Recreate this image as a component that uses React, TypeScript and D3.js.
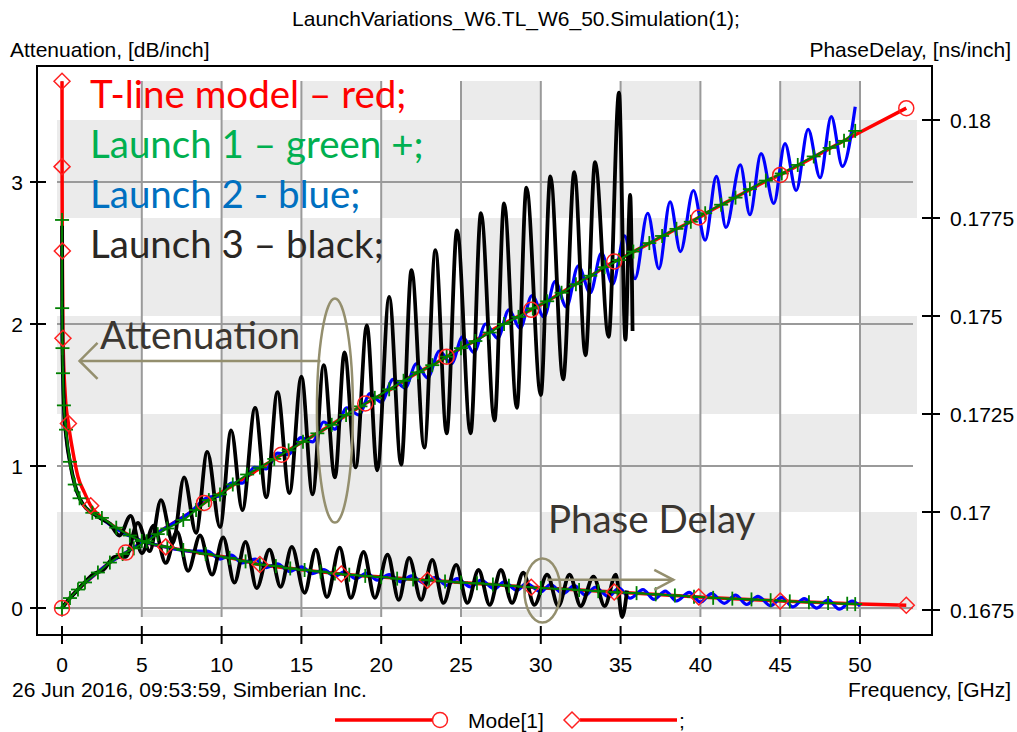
import React from 'react';
import * as d3 from 'd3';

// ---------- axes ----------
const freqTicks = [0, 5, 10, 15, 20, 25, 30, 35, 40, 45, 50];
const attTicks = [0, 1, 2, 3];
const pdTicks = [0.1675, 0.17, 0.1725, 0.175, 0.1775, 0.18];
const pdTickLabels = ['0.1675', '0.17', '0.1725', '0.175', '0.1775', '0.18'];

// ---------- T-line model (red) ----------
const tlineAtt: number[][] = [
  [0, 0], [0.5, 0.07], [1, 0.13], [2, 0.23], [3, 0.32], [4, 0.39], [5, 0.46], [6, 0.53], [7, 0.6], [8, 0.67],
  [8.9, 0.74], [10, 0.815], [11, 0.885], [12, 0.955], [13.75, 1.08], [15, 1.165], [16, 1.23], [17, 1.3], [18, 1.37],
  [19, 1.44], [20, 1.5], [21, 1.57], [22, 1.64], [23, 1.7], [24.1, 1.77], [25, 1.83], [26, 1.89], [27, 1.96],
  [28, 2.02], [29.4, 2.1], [30, 2.135], [31, 2.2], [32, 2.27], [33, 2.33], [34.6, 2.44], [35, 2.46], [36, 2.52],
  [37, 2.58], [38, 2.64], [39.9, 2.75], [41, 2.82], [42, 2.88], [43, 2.94], [44, 3.0], [45, 3.05], [46, 3.11],
  [47, 3.17], [48, 3.23], [49, 3.29], [50, 3.35], [52.9, 3.52],
];
const tlineAttMarkers: number[][] = [
  [0, 0], [4, 0.39], [8.9, 0.74], [13.75, 1.08], [19, 1.44], [24.1, 1.77], [29.4, 2.1], [34.6, 2.44],
  [39.9, 2.75], [45, 3.05], [52.9, 3.52],
];
const tlinePd: number[][] = [
  [0.001, 0.18099], [0.005, 0.17881], [0.02, 0.17666], [0.06, 0.17443], [0.2, 0.173], [0.4, 0.17226],
  [0.7, 0.1715], [1, 0.1709], [1.4, 0.1705], [1.8, 0.17016], [2.5, 0.16985], [3.4, 0.1696], [4.25, 0.1694],
  [5, 0.16926], [6.5, 0.16911], [8, 0.169], [9, 0.16893], [10.5, 0.16883], [12.4, 0.16866], [15, 0.16853],
  [17.5, 0.16842], [20, 0.16834], [22.9, 0.16826], [25, 0.1682], [29.4, 0.16808], [34.6, 0.16796],
  [39.9, 0.16783], [45, 0.16773], [50, 0.16765], [52.9, 0.16762],
];
const tlinePdMarkers: number[][] = [
  [0.001, 0.18099], [0.005, 0.17881], [0.02, 0.17666], [0.06, 0.17443], [0.4, 0.17226], [1.8, 0.17016],
  [6.5, 0.16911], [12.4, 0.16866], [17.5, 0.16842], [22.9, 0.16826], [29.4, 0.16808], [34.6, 0.16796],
  [39.9, 0.16783], [45, 0.16773], [52.9, 0.16762],
];

// ---------- Launch 1 (green +) ----------
const launch1Att: number[][] = [
  [0, 0], [0.5, 0.07], [1.0, 0.13], [1.44, 0.18], [2.25, 0.25], [3, 0.32], [3.8, 0.38], [4.5, 0.42], [5.3, 0.47],
  [6, 0.52], [6.6, 0.56], [7.6, 0.62], [8.4, 0.69], [9.2, 0.76], [9.9, 0.8], [10.7, 0.87], [11.6, 0.94],
  [12.4, 0.99], [13.3, 1.05], [14.2, 1.11], [15.1, 1.17], [16, 1.23], [16.9, 1.29], [17.8, 1.36], [18.7, 1.42],
  [19.6, 1.48], [20.5, 1.54], [21.4, 1.6], [22.3, 1.66], [23.2, 1.71], [24.1, 1.77], [25, 1.83], [25.9, 1.88],
  [26.8, 1.94], [27.7, 2.0], [28.6, 2.05], [29.5, 2.11], [30.4, 2.16], [31.3, 2.22], [32.2, 2.28], [33.1, 2.34],
  [34, 2.4], [34.9, 2.45], [35.8, 2.51], [36.8, 2.57], [37.6, 2.62], [38.5, 2.67], [39.4, 2.72], [40.3, 2.78],
  [41.3, 2.84], [42.2, 2.89], [43.1, 2.95], [44.1, 3.01], [45.1, 3.06], [46.1, 3.12], [47.1, 3.18], [48.1, 3.24],
  [49, 3.29], [49.7, 3.36],
];
const launch1Pd: number[][] = [
  [0.003, 0.17745], [0.01, 0.1752], [0.03, 0.17418], [0.06, 0.17354], [0.12, 0.17272], [0.25, 0.1721],
  [0.5, 0.17128], [0.8, 0.1707], [1.1, 0.17035], [1.9, 0.16998], [2.5, 0.16985], [3.4, 0.1696], [4.25, 0.1694],
  [5, 0.16926], [6.6, 0.16911], [7.6, 0.16903], [9, 0.16893], [10.5, 0.16883], [11.5, 0.16874], [12.4, 0.16866],
  [13.4, 0.16862], [14.3, 0.16856], [15.2, 0.16852], [16.2, 0.16848], [17.1, 0.16843], [18, 0.1684],
  [19, 0.16837], [20, 0.16834], [21, 0.1683], [22, 0.16828], [23, 0.16826], [24, 0.16823], [25, 0.1682],
  [26, 0.16818], [27, 0.16815], [28, 0.16812], [29, 0.16809], [30, 0.16806], [31.2, 0.16804], [32.4, 0.16801],
  [33.6, 0.16798], [34.8, 0.16795], [36, 0.16793], [37.2, 0.1679], [38.4, 0.16787], [39.6, 0.16784],
  [40.8, 0.16781], [42, 0.16779], [43.2, 0.16777], [44.4, 0.16775], [45.6, 0.16772], [46.8, 0.1677],
  [48, 0.16768], [49.2, 0.16766], [49.7, 0.16765],
];

// ---------- Launch 2 (blue) ----------
const launch2Att: number[][] = [
  [0, 0], [0.5, 0.07], [1, 0.13], [2, 0.23], [3, 0.32], [4, 0.39], [5, 0.46], [6, 0.53], [7, 0.6], [8, 0.67],
  [9.15, 0.78], [9.9, 0.79], [10.6, 0.88], [11.3, 0.88], [12.05, 0.99], [12.8, 0.98], [13.5, 1.09], [14.2, 1.08],
  [14.95, 1.2], [15.7, 1.17], [16.4, 1.31], [17.1, 1.26], [17.85, 1.41], [18.6, 1.36], [19.3, 1.51], [20, 1.45],
  [20.75, 1.61], [21.5, 1.55], [22.2, 1.72], [22.9, 1.62], [23.65, 1.81], [24.4, 1.72], [25.1, 1.91], [25.8, 1.8],
  [26.55, 2.0], [27.3, 1.9], [28, 2.1], [28.7, 1.97], [29.45, 2.2], [30.2, 2.05], [30.9, 2.3], [31.6, 2.12],
  [32.35, 2.41], [33.1, 2.22], [33.8, 2.5], [34.5, 2.28], [35.25, 2.62], [35.9, 2.32], [36.7, 2.78], [37.4, 2.39],
  [38.1, 2.86], [38.75, 2.51], [39.56, 2.94], [40.3, 2.59], [41.0, 3.04], [41.6, 2.68], [42.5, 3.12], [43.1, 2.77],
  [43.8, 3.2], [44.6, 2.85], [45.3, 3.27], [46.0, 2.94], [46.75, 3.37], [47.5, 3.03], [48.2, 3.46], [48.9, 3.11],
  [49.7, 3.53],
];
const launch2Pd: number[][] = [
  [0.01, 0.1752], [0.03, 0.1742], [0.06, 0.17354], [0.12, 0.17272], [0.3, 0.1718], [0.5, 0.17128], [0.8, 0.1707],
  [1.1, 0.17035], [1.5, 0.1701], [2, 0.16995], [2.5, 0.16982], [3, 0.16968], [3.5, 0.16955], [4, 0.16943],
  [4.5, 0.16935], [5, 0.16926], [6, 0.16915], [7, 0.16906], [8, 0.169], [9.1, 0.169], [9.9, 0.1688],
  [10.6, 0.1689], [11.3, 0.1687], [12.1, 0.1688], [12.8, 0.16858], [13.5, 0.16868], [14.25, 0.16848],
  [15, 0.1686], [15.7, 0.16843], [16.4, 0.16853], [17.1, 0.16836], [17.7, 0.16848], [18.4, 0.1683],
  [19.1, 0.16844], [19.75, 0.16826], [20.5, 0.1684], [21.25, 0.16822], [21.9, 0.16837], [22.7, 0.16818],
  [23.4, 0.16833], [24.1, 0.16813], [24.75, 0.1683], [25.6, 0.16809], [26.25, 0.16826], [27.1, 0.16804],
  [27.7, 0.16822], [28.5, 0.168], [29.1, 0.16818], [30, 0.16796], [30.6, 0.16815], [31.4, 0.16792],
  [32.1, 0.16812], [32.8, 0.16788], [33.4, 0.16808], [34.25, 0.16784], [34.9, 0.16806], [35.6, 0.1678],
  [36.4, 0.16802], [37.1, 0.16777], [37.8, 0.16798], [38.5, 0.16773], [39.3, 0.16795], [40.0, 0.1677],
  [40.7, 0.16792], [41.5, 0.16767], [42.2, 0.16788], [42.9, 0.16764], [43.6, 0.16785], [44.4, 0.16761],
  [45.1, 0.16782], [45.8, 0.16758], [46.5, 0.16779], [47.3, 0.16755], [48.0, 0.16776], [48.7, 0.16752],
  [49.5, 0.16773], [50, 0.1676],
];

// ---------- Launch 3 (black) ----------
const launch3Att: number[][] = [
  [0, 0], [0.5, 0.07], [1, 0.13], [1.5, 0.19], [2, 0.24], [2.6, 0.27], [3.3, 0.36], [4.0, 0.36], [4.75, 0.6],
  [5.5, 0.4], [6.2, 0.76], [6.95, 0.46], [7.65, 0.92], [8.4, 0.53], [9.1, 1.1], [9.9, 0.57], [10.6, 1.25],
  [11.3, 0.69], [12.1, 1.41], [12.8, 0.78], [13.5, 1.52], [14.25, 0.81], [15, 1.63], [15.7, 0.8], [16.4, 1.71],
  [17.1, 0.92], [17.7, 1.8], [18.4, 0.99], [19.1, 1.99], [19.75, 0.97], [20.5, 2.19], [21.25, 1.01], [21.9, 2.38],
  [22.7, 1.13], [23.4, 2.52], [24.1, 1.23], [24.75, 2.66], [25.6, 1.23], [26.25, 2.78], [27.1, 1.32], [27.7, 2.85],
  [28.5, 1.41], [29.1, 2.96], [30, 1.5], [30.6, 3.04], [31.4, 1.61], [32.1, 3.07], [32.8, 1.78], [33.4, 3.14],
  [34.25, 1.91], [34.9, 3.63], [35.3, 1.89], [35.6, 2.91], [35.75, 1.95],
];
const launch3Pd: number[][] = [
  [0.003, 0.1773], [0.01, 0.1752], [0.03, 0.17418], [0.06, 0.17354], [0.12, 0.17272], [0.3, 0.1718],
  [0.5, 0.17128], [0.8, 0.1707], [1.1, 0.17035], [1.5, 0.1701], [2, 0.16995], [2.5, 0.16982], [3, 0.1697],
  [3.6, 0.1694], [4.3, 0.1699], [5.0, 0.16895], [5.75, 0.16965], [6.5, 0.1687], [7.2, 0.1695], [7.9, 0.1685],
  [8.65, 0.1694], [9.4, 0.1684], [10.1, 0.16935], [10.8, 0.1682], [11.5, 0.16924], [12.2, 0.16806],
  [13, 0.16904], [13.7, 0.16809], [14.4, 0.16911], [15.2, 0.16794], [15.9, 0.16904], [16.6, 0.16783],
  [17.4, 0.16909], [18.1, 0.16781], [18.9, 0.16898], [19.6, 0.16781], [20.4, 0.16891], [21.1, 0.16776],
  [21.75, 0.16883], [22.5, 0.16776], [23.2, 0.16878], [23.9, 0.16768], [24.7, 0.16865], [25.4, 0.16768],
  [26.1, 0.16852], [26.8, 0.16763], [27.5, 0.16852], [28.2, 0.16768], [28.9, 0.16845], [29.6, 0.16763],
  [30.4, 0.1684], [31.1, 0.1676], [31.8, 0.1684], [32.5, 0.1676], [33.3, 0.16835], [34.0, 0.1676],
  [34.7, 0.1684], [35.1, 0.16732], [35.4, 0.168],
];

const legendTexts = [
  { text: 'T-line model \u2013 red;', color: '#FF0000' },
  { text: 'Launch 1 \u2013 green +;', color: '#00B050' },
  { text: 'Launch 2 - blue;', color: '#0070C0' },
  { text: 'Launch 3 \u2013 black;', color: '#2A2724' },
];

const AXIS_FONT = '"Liberation Sans", Arial, sans-serif';
const NOTE_FONT = 'Lato, "Open Sans", sans-serif';
const NOTE_COLOR = '#948F6E';

export default function App() {
  const W = 1017;
  const H = 732;
  const x = d3.scaleLinear().domain([0, 50]).range([62, 860]);
  const yA = d3.scaleLinear().domain([0, 3]).range([608, 182]);
  const yP = d3.scaleLinear().domain([0.1675, 0.18]).range([610, 120]);

  const frame = { l: 37, t: 66, r: 932, b: 635 };
  const band = { l: 57, r: 917, t: 81, b: 617 };

  const lineA = d3.line<number[]>().x((d) => x(d[0])).y((d) => yA(d[1])).curve(d3.curveMonotoneX);
  const lineP = d3.line<number[]>().x((d) => x(d[0])).y((d) => yP(d[1])).curve(d3.curveMonotoneX);

  // checkerboard background
  const colEdges = [band.l, ...freqTicks.slice(1).map((f) => x(f)), band.r];
  const rowEdges = [band.t, ...pdTicks.slice().reverse().map((p) => yP(p)), band.b];
  const cells: { x: number; y: number; w: number; h: number }[] = [];
  for (let r = 0; r < rowEdges.length - 1; r++) {
    for (let c = 0; c < colEdges.length - 1; c++) {
      if ((r + c) % 2 === 1) {
        cells.push({ x: colEdges[c], y: rowEdges[r], w: colEdges[c + 1] - colEdges[c], h: rowEdges[r + 1] - rowEdges[r] });
      }
    }
  }

  const plus = (px: number, py: number, k: string) => (
    <g key={k}>
      <line x1={px - 7} x2={px + 7} y1={py} y2={py} />
      <line x1={px} x2={px} y1={py - 7} y2={py + 7} />
    </g>
  );
  const diamond = (px: number, py: number, k: string | number) => (
    <path key={k} d={`M${px - 8},${py}L${px},${py - 8}L${px + 8},${py}L${px},${py + 8}Z`} />
  );

  return (
    <svg width={W} height={H} style={{ position: 'absolute', left: 0, top: 0, background: '#fff' }}>
      <rect x={0} y={0} width={W} height={H} fill="#fff" />
      {/* bands */}
      <g fill="#EBEBEB">
        {cells.map((c, i) => (
          <rect key={i} x={c.x} y={c.y} width={c.w} height={c.h} />
        ))}
      </g>
      {/* grid */}
      <g stroke="#9A9A9A" strokeWidth={2}>
        {freqTicks.map((f) => (
          <line key={'vg' + f} x1={x(f)} x2={x(f)} y1={band.t} y2={band.b} />
        ))}
        {attTicks.map((a) => (
          <line key={'hg' + a} x1={band.l} x2={913} y1={yA(a)} y2={yA(a)} />
        ))}
      </g>

      {/* curves */}
      <g fill="none" strokeLinejoin="round">
        <path d={lineA(tlineAtt) || ''} stroke="#FF0000" strokeWidth={3.5} />
        <path d={lineP(tlinePd) || ''} stroke="#FF0000" strokeWidth={3.5} />
        <path d={lineA(launch2Att) || ''} stroke="#0000FF" strokeWidth={3.2} />
        <path d={lineP(launch2Pd) || ''} stroke="#0000FF" strokeWidth={3.2} />
        <path d={lineA(launch3Att) || ''} stroke="#000000" strokeWidth={3.8} />
        <path d={lineP(launch3Pd) || ''} stroke="#000000" strokeWidth={3.8} />
        <path d={lineA(launch1Att) || ''} stroke="#008000" strokeWidth={2} />
        <path d={lineP(launch1Pd) || ''} stroke="#008000" strokeWidth={2} />
      </g>
      <g stroke="#008000" strokeWidth={1.8}>
        {launch1Att.map((d, i) => plus(x(d[0]), yA(d[1]), 'ga' + i))}
        {launch1Pd.map((d, i) => plus(x(d[0]), yP(d[1]), 'gp' + i))}
      </g>
      <g fill="none" stroke="#FF2020" strokeWidth={1.5}>
        {tlineAttMarkers.map((d, i) => (
          <circle key={'rc' + i} cx={x(d[0])} cy={yA(d[1])} r={7.5} />
        ))}
        {tlinePdMarkers.map((d, i) => diamond(x(d[0]), yP(d[1]), 'rd' + i))}
      </g>

      {/* frame */}
      <rect x={frame.l} y={frame.t} width={frame.r - frame.l} height={frame.b - frame.t} fill="none" stroke="#000" strokeWidth={2} />

      {/* ticks + labels */}
      <g stroke="#000" strokeWidth={2}>
        {attTicks.map((a) => (
          <line key={'lt' + a} x1={30} x2={46} y1={yA(a)} y2={yA(a)} />
        ))}
        {pdTicks.map((p) => (
          <line key={'rt' + p} x1={922} x2={940} y1={yP(p)} y2={yP(p)} />
        ))}
        {freqTicks.map((f) => (
          <line key={'bt' + f} x1={x(f)} x2={x(f)} y1={626} y2={644} />
        ))}
      </g>
      <g fontFamily={AXIS_FONT} fontSize={21} fill="#000">
        {attTicks.map((a) => (
          <text key={'ll' + a} x={23} y={yA(a) + 8} textAnchor="end">
            {a}
          </text>
        ))}
        {pdTicks.map((p, i) => (
          <text key={'rl' + p} x={950} y={yP(p) + 8}>
            {pdTickLabels[i]}
          </text>
        ))}
        {freqTicks.map((f) => (
          <text key={'bl' + f} x={x(f)} y={672} textAnchor="middle">
            {f}
          </text>
        ))}
        <text x={516} y={26} textAnchor="middle">LaunchVariations_W6.TL_W6_50.Simulation(1);</text>
        <text x={10} y={57}>Attenuation, [dB/inch]</text>
        <text x={1011} y={57} textAnchor="end">PhaseDelay, [ns/inch]</text>
        <text x={12} y={697}>26 Jun 2016, 09:53:59, Simberian Inc.</text>
        <text x={1011} y={697} textAnchor="end">Frequency, [GHz]</text>
        <text x={468} y={728}>Mode[1]</text>
        <text x={679} y={728}>;</text>
      </g>
      {/* bottom legend */}
      <g stroke="#FF0000" strokeWidth={3.5}>
        <line x1={335} x2={433} y1={720} y2={720} />
        <line x1={580} x2={677} y1={720} y2={720} />
      </g>
      <g fill="none" stroke="#FF2020" strokeWidth={1.5}>
        <circle cx={440} cy={720} r={7.5} />
        {diamond(572, 720, 'legd')}
      </g>

      {/* annotations */}
      <g fontFamily={NOTE_FONT} fontSize={38.5}>
        {legendTexts.map((t, i) => (
          <text key={i} x={90} y={108 + i * 50} fill={t.color}>
            {t.text}
          </text>
        ))}
        <text x={100} y={349} fill="#3A3631">Attenuation</text>
        <text x={548} y={533} fill="#3A3631">Phase Delay</text>
      </g>
      <g fill="none" stroke={NOTE_COLOR} strokeWidth={2.5}>
        <ellipse cx={x(17.1)} cy={yA(1.39)} rx={18} ry={112} />
        <line x1={x(1.1)} x2={x(16.2)} y1={yA(1.74)} y2={yA(1.74)} />
        <polyline points={`${x(1.1) + 18},${yA(1.74) - 18} ${x(1.1)},${yA(1.74)} ${x(1.1) + 18},${yA(1.74) + 18}`} />
        <ellipse cx={x(30.1)} cy={yP(0.168)} rx={18} ry={32} />
        <line x1={x(30.4)} x2={x(38.3)} y1={yP(0.16827)} y2={yP(0.16827)} />
        <polyline points={`${x(38.3) - 19},${yP(0.16827) - 10} ${x(38.3)},${yP(0.16827)} ${x(38.3) - 19},${yP(0.16827) + 10}`} />
      </g>
    </svg>
  );
}
